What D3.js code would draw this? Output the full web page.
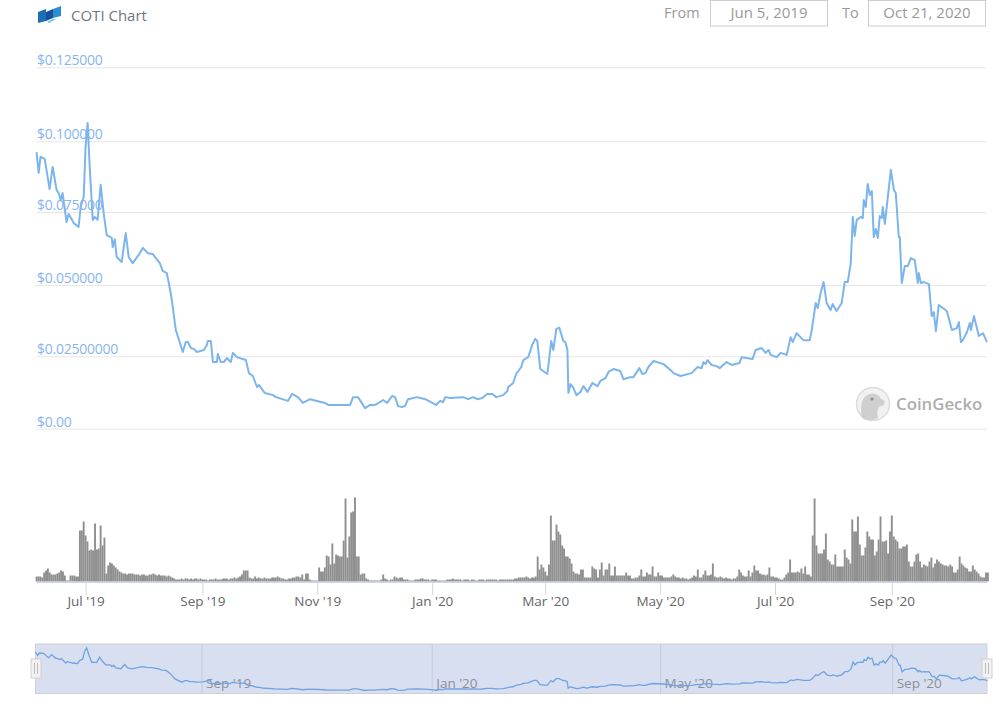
<!DOCTYPE html>
<html>
<head>
<meta charset="utf-8">
<title>COTI Chart</title>
<script src="https://cdn.jsdelivr.net/npm/d3@7"></script>
<style>
  html, body { margin: 0; padding: 0; background: #fff; }
  svg { display: block; font-family: "Open Sans", sans-serif; }
  .soft { filter: blur(0.4px); }
</style>
</head>
<body>
<svg id="chart" width="1003" height="723"></svg>
<script>
const startDate = Date.UTC(2019, 5, 5);
const endDate = Date.UTC(2020, 9, 21);

const priceTicks = [0, 0.025, 0.05, 0.075, 0.1, 0.125];
const priceTickLabels = ["$0.00", "$0.02500000", "$0.050000", "$0.075000", "$0.100000", "$0.125000"];

// days since Jun 5 2019
const priceDays = [
  0, 1.1, 2.1, 4.3, 6.9, 8.5, 10.6, 11.7, 12.8, 13.8, 15.9, 17, 19.7, 22.3, 23.4, 25, 26, 27.1, 28.2, 29.8,
  30.8, 32.4, 34, 35.6, 37.2, 39.9, 40.4, 41.5, 42.5, 45.2, 47.3, 48.9, 51, 54.2, 56.4, 59, 61.7, 65.4, 67, 69.1,
  70.2, 71.8, 73.9, 77.6, 79.2, 80.3, 81.9, 83.5, 85.1, 88.8, 90.4, 90.9, 92.5, 93.6, 95.7, 96.2, 97.8, 99.4, 101, 103.1,
  104.2, 106.3, 111.1, 112.7, 114.8, 117, 118, 121.2, 125.5, 127, 133.4, 135.6, 138.7, 141.4, 145.1, 153.1, 154.7, 155.8, 166.4, 168,
  170.6, 174.4, 177, 179.7, 182.3, 183.9, 186.1, 188.7, 190.3, 191.9, 194, 195.6, 197.2, 202, 206.3, 212.1, 214.2, 215.8, 216.9, 219.6,
  226.5, 229.1, 231.8, 233.9, 236.6, 239.2, 241.9, 244, 247.7, 249.9, 250.4, 253, 254.6, 257.3, 258.4, 261, 263.1, 264.7, 265.8, 267.4,
  271.1, 271.6, 273.2, 274.3, 275.9, 277.5, 279.6, 280.7, 281.8, 282.3, 283.4, 285, 286.6, 288.7, 290.3, 292.4, 295, 297.7, 299.3, 302,
  303.6, 306.2, 309.9, 311.5, 315.2, 316.8, 320, 321.6, 323.2, 324.8, 327.5, 332.8, 336.5, 338.1, 341.8, 347.7, 350.9, 353, 354, 355.1,
  356.2, 358.3, 361, 362.6, 366.3, 369, 373.2, 374.3, 380.1, 381.7, 384.9, 387, 388.6, 389.7, 392.9, 395, 398.2, 400.3, 401.4, 403.5,
  407.2, 410.4, 411.5, 413.6, 414.7, 416.2, 417.8, 419.4, 421.5, 422.6, 424.7, 427.4, 429, 430.6, 432.2, 433.3, 434.3, 435.4, 437.5, 438.6,
  439.1, 440.2, 441.2, 442.3, 443.4, 444.4, 445.5, 446.6, 447.6, 448.7, 449.2, 450.3, 453.5, 455.1, 456.1, 457.7, 458.2, 459.3, 460.9, 462.5,
  464.1, 466.2, 467.8, 468.3, 469.4, 471, 473.7, 475.2, 476.3, 477.4, 478.9, 483.2, 485.9, 488.5, 489.6, 490.7, 491.7, 493.9, 495.4, 496,
  497.6, 500.2, 502.4, 504.5
];
const priceValues = [
  .0962, .0888, .0945, .0938, .0831, .0909, .0828, .0817, .0792, .0817, .0716, .0743, .0712, .0699, .0768, .0803, .098, .1062, .0909, .0723,
  .0733, .0723, .0846, .0747, .0671, .0661, .063, .0657, .0596, .0579, .0678, .0596, .0575, .0603, .0627, .0609, .0606, .0575, .0548, .0541,
  .0507, .0447, .0342, .0265, .03, .03, .0279, .0276, .0265, .0272, .029, .0304, .0304, .023, .023, .0258, .023, .023, .0244, .023,
  .0262, .0247, .0237, .0192, .0182, .0144, .0151, .0123, .0116, .0109, .0096, .012, .0109, .0089, .0102, .0089, .0082, .0082, .0082, .0109,
  .0109, .0071, .0082, .0082, .0092, .0099, .0089, .0113, .0109, .0078, .0075, .0078, .0102, .0109, .0102, .0082, .0096, .0092, .0109, .0106,
  .0109, .0102, .0109, .0102, .0106, .012, .012, .0109, .0116, .013, .0144, .0158, .0189, .0213, .0237, .0247, .029, .0311, .0304, .0206,
  .0189, .0213, .0304, .0272, .0346, .035, .0304, .03, .0272, .0123, .0154, .014, .0116, .0127, .0147, .0127, .0158, .0147, .0165, .0175,
  .0196, .0206, .0199, .0171, .0178, .0178, .0209, .0189, .0192, .0213, .0234, .0223, .0203, .0192, .0182, .0192, .0213, .0209, .023, .0223,
  .0237, .022, .0216, .0209, .023, .022, .0227, .0247, .0241, .0272, .0279, .0262, .0272, .0255, .0247, .0262, .0255, .0317, .03, .0331,
  .0306, .0306, .0342, .0437, .0419, .0472, .051, .0437, .0412, .0433, .0409, .0437, .051, .051, .0575, .0733, .0668, .0723, .0733, .0729,
  .0792, .0768, .0849, .081, .0824, .0664, .0692, .0661, .0736, .0729, .0768, .0709, .0899, .0828, .0817, .0664, .0664, .0507, .0565, .0565,
  .0592, .0585, .0507, .0541, .0507, .051, .0503, .0391, .0405, .0338, .043, .0409, .0342, .0349, .037, .03, .0306, .0335, .0367, .0342,
  .0391, .0321, .0331, .03
];

// one bar per day from Jun 5 2019, relative height
const volumeValues = [
  5, 5, 5, 4, 9, 11, 13, 9, 7, 7, 7, 8, 9, 11, 10, 6, 1, 1, 6, 6, 6, 5, 5,
  51, 51, 60, 46, 40, 31, 32, 31, 58, 32, 33, 56, 36, 44, 8, 16, 19,
  18, 16, 14, 12, 10, 9, 8, 8, 7, 8, 8, 8, 7, 7, 7, 6,
  7, 7, 6, 6, 7, 7, 8, 7, 6, 7, 6, 6, 6, 5, 6, 5, 4, 3, 2, 2,
  2, 3, 2, 3, 3, 2, 3, 2, 3, 3, 2, 3, 2, 2, 2, 1, 2,
  2, 2, 3, 2, 2, 2, 3, 3, 3, 2, 3, 3, 4, 3, 4, 5, 7, 11, 11, 11, 4, 3, 3,
  5, 3, 4, 3, 3, 4, 3, 3, 3, 4, 4, 4, 5, 4, 3, 3, 2, 2, 3, 3, 4, 4, 5, 5, 4, 7, 2, 8, 8, 2, 1, 1, 1, 1,
  14, 10, 10, 14, 26, 25, 17, 38, 18, 27, 26, 25, 25, 41, 83, 24, 45, 69, 70, 84, 25, 25, 7,
  8, 8, 3, 2, 1, 1, 1, 1, 1, 1, 2,
  7, 3, 2, 1, 2, 2, 5, 4, 3, 4, 4, 2, 2, 2, 1, 1,
  1, 2, 2, 2, 3, 3, 2, 2, 2, 1, 2, 2, 2, 1, 1, 1, 1, 1, 2, 2, 2, 3, 2, 2, 2, 2, 1, 2, 2, 2,
  1, 2, 2, 1, 1, 2, 2, 2, 1, 2, 2, 2, 2, 2, 2, 1, 2, 2, 2, 2, 2,
  2, 2, 2, 3, 3, 4, 4, 4, 4, 5, 4, 3, 4, 4, 5,
  25, 12, 17, 14, 10, 6, 17, 66, 41, 41, 57, 50, 47,
  36, 33, 25, 25, 23, 18, 10, 8, 8, 7,
  12, 12, 4, 4, 4, 4, 15, 13, 12, 4, 12, 19, 6, 12, 12, 18, 6, 6, 15, 6, 6, 6, 6, 6, 9, 6, 6, 3, 3, 4, 4, 6, 12, 5, 5, 9, 7, 7, 15, 5, 5, 9, 6, 6,
  4, 4, 4, 4, 5, 7, 5, 4, 4, 3, 4, 3, 3, 2, 3, 4, 6, 5, 12, 4, 4, 7, 11, 6, 6, 7, 18, 5, 4, 4, 5, 4, 3, 4, 3, 3, 2, 3, 3,
  5, 12, 9, 6, 5, 5, 11, 5, 9, 16, 11, 11, 8, 7, 7, 6, 7, 14, 5, 5, 4, 4, 3, 2, 2, 4, 7, 9, 22, 9, 9, 9, 10, 9, 13, 8, 15, 7, 7, 5,
  46, 83, 36, 28, 28, 28, 32, 48, 22, 20, 17, 17, 27, 15, 15, 15, 15, 32, 24, 22, 18, 62, 50, 50, 65, 37, 26, 26, 34, 50, 45, 42, 42, 26, 30, 42, 65, 40, 40, 41, 28, 50, 66, 45, 42, 40, 33, 33, 35, 35, 37, 20, 15, 15, 20, 27, 28, 20, 14, 17, 16, 15, 20, 24, 14, 18, 22, 20, 18, 17, 16, 16, 15, 17, 15, 9, 9, 12, 25, 18, 16, 14, 13, 10, 10, 16, 12, 10, 8, 5, 4, 4, 9, 9
];

const axisTickDates = [
  Date.UTC(2019, 6, 1), Date.UTC(2019, 8, 1), Date.UTC(2019, 10, 1), Date.UTC(2020, 0, 1),
  Date.UTC(2020, 2, 1), Date.UTC(2020, 4, 1), Date.UTC(2020, 6, 1), Date.UTC(2020, 8, 1)
];
const navigatorTickDates = [
  Date.UTC(2019, 8, 1), Date.UTC(2020, 0, 1), Date.UTC(2020, 4, 1), Date.UTC(2020, 8, 1)
];

const dayMs = 86400000;
const priceData = priceDays.map((d, i) => ({ date: startDate + d * dayMs, value: priceValues[i] }));
const volumeData = volumeValues.map((v, i) => ({ date: startDate + i * dayMs, value: v }));
const tickFormat = d3.utcFormat("%b '%y");

const svg = d3.select("#chart");

const xScale = d3.scaleUtc().domain([startDate, endDate]).range([36.6, 986]);
// the grid lines in the picture are not quite evenly spaced
const yScale = d3.scaleLinear().domain(priceTicks).range([428.7, 356.3, 285, 212, 141.3, 67.3]);
const volumeScale = d3.scaleLinear().domain([0, 85]).range([581.5, 496.5]);
const navXScale = d3.scaleUtc().domain([startDate, endDate]).range([35.5, 986.5]);
const navYScale = d3.scaleLinear().domain([0.0071, 0.1062]).range([690.5, 648]);

drawHeader();
drawWatermark();
drawPriceAxis();
drawPriceLine();
drawVolume();
drawNavigator();

function drawHeader() {
  const logo = svg.append("g");
  logo.append("path").attr("d", "M38 12 L46 9 L46 21 L38 23 Z").attr("fill", "#1c6fb4");
  logo.append("path").attr("d", "M46 12 L53 9 L53 18 L46 21 Z").attr("fill", "#1b4f9c");
  logo.append("path").attr("d", "M53 9 L61 6 L61 16 L53 18 Z").attr("fill", "#2a8fd0");
  logo.append("path").attr("d", "M47 22 L53 19 L56 19 L49 23 Z").attr("fill", "#55c8ea");

  svg.append("text").attr("x", 71).attr("y", 21).attr("font-size", 15).attr("fill", "#6f7680").text("COTI Chart");

  const boxes = [
    { label: "From", labelX: 664, x: 710.5, w: 117, text: "Jun 5, 2019" },
    { label: "To", labelX: 842, x: 868.5, w: 117, text: "Oct 21, 2020" }
  ];
  boxes.forEach((b) => {
    svg.append("text").attr("x", b.labelX).attr("y", 18).attr("font-size", 14.5).attr("fill", "#9a9a9a").text(b.label);
    svg.append("rect").attr("x", b.x).attr("y", 0.5).attr("width", b.w).attr("height", 25.5)
      .attr("fill", "#fff").attr("stroke", "#ccc");
    svg.append("text").attr("x", b.x + b.w / 2).attr("y", 18).attr("text-anchor", "middle")
      .attr("font-size", 15).attr("fill", "#999").text(b.text);
  });
}

function drawWatermark() {
  const g = svg.append("g");
  g.append("circle").attr("cx", 873).attr("cy", 404).attr("r", 16.5)
    .attr("fill", "#f1f1f1").attr("stroke", "#dcdcdc").attr("stroke-width", 1.5);
  g.append("path")
    .attr("d", "M862 418 C860 408 861 396 870 394 C875 392 880 396 881 399 C886 400 886 405 881 406 C877 407 877 412 878 418 C873 421 866 421 862 418 Z")
    .attr("fill", "#cfcfcf");
  g.append("circle").attr("cx", 872).attr("cy", 399).attr("r", 1.6).attr("fill", "#8f8f8f");
  g.append("text").attr("x", 896).attr("y", 409.5).attr("font-size", 16.8).attr("font-weight", 600)
    .attr("fill", "#adadad").text("CoinGecko");
}

function drawPriceAxis() {
  const axis = d3.axisLeft(yScale)
    .tickValues(priceTicks)
    .tickSize(-950)
    .tickFormat((d, i) => priceTickLabels[i]);
  const g = svg.append("g").attr("transform", "translate(36.5,0)").call(axis);
  g.select(".domain").remove();
  g.selectAll(".tick line").attr("stroke", "#e6e6e6").attr("stroke-width", 1);
  g.selectAll(".tick text")
    .attr("x", 0.5).attr("y", -2.5).attr("dy", 0)
    .attr("text-anchor", "start")
    .attr("font-size", 14)
    .attr("letter-spacing", -0.25)
    .attr("font-family", '"Open Sans", sans-serif')
    .attr("fill", "#88b5f0");
}

function drawPriceLine() {
  const line = d3.line().x((d) => xScale(d.date)).y((d) => yScale(d.value));
  svg.append("path").datum(priceData).attr("d", line)
    .attr("class", "soft")
    .attr("fill", "none").attr("stroke", "#7cb5ec").attr("stroke-width", 2)
    .attr("stroke-linejoin", "round");
}

function drawVolume() {
  svg.append("g").attr("class", "soft").selectAll("rect").data(volumeData).join("rect")
    .attr("x", (d) => xScale(d.date) - 0.95)
    .attr("width", 1.9)
    .attr("y", (d) => volumeScale(d.value))
    .attr("height", (d) => volumeScale(0) - volumeScale(d.value))
    .attr("fill", "#8f8f8f");

  const axis = d3.axisBottom(xScale).tickValues(axisTickDates).tickSize(13).tickFormat(tickFormat);
  const g = svg.append("g").attr("transform", "translate(0,582)").call(axis);
  g.select(".domain").attr("stroke", "#ccd6eb").attr("d", "M36.5,0.5H987");
  g.selectAll(".tick line").attr("stroke", "#ccd6eb");
  g.selectAll(".tick text")
    .attr("y", 24).attr("dy", 0)
    .attr("font-size", 13.5)
    .attr("font-family", '"Open Sans", sans-serif')
    .attr("fill", "#666");
}

function drawNavigator() {
  svg.append("rect").attr("x", 35.5).attr("y", 644).attr("width", 951.5).attr("height", 49.5)
    .attr("fill", "#d8dff0").attr("stroke", "#d0d0d0");

  const axis = d3.axisBottom(navXScale).tickValues(navigatorTickDates).tickSize(-49).tickFormat(tickFormat);
  const g = svg.append("g").attr("transform", "translate(0,693)").call(axis);
  g.select(".domain").remove();
  g.selectAll(".tick line").attr("stroke", "#c4cbdd");
  g.selectAll(".tick text")
    .attr("x", 4).attr("y", -5).attr("dy", 0)
    .attr("text-anchor", "start")
    .attr("font-size", 13.5)
    .attr("font-family", '"Open Sans", sans-serif')
    .attr("fill", "#8d8f98");

  const line = d3.line().x((d) => navXScale(d.date)).y((d) => navYScale(d.value));
  svg.append("path").datum(priceData).attr("d", line)
    .attr("class", "soft")
    .attr("fill", "none").attr("stroke", "#6ea3e4").attr("stroke-width", 1.3);

  [36, 987].forEach((cx) => {
    const h = svg.append("g").attr("transform", `translate(${cx},0)`);
    h.append("rect").attr("x", -5).attr("y", 659).attr("width", 10).attr("height", 19)
      .attr("fill", "#f2f2f2").attr("stroke", "#cfcfcf");
    h.append("path").attr("d", "M-1.5,663V674M1.5,663V674").attr("stroke", "#bdbdbd").attr("fill", "none");
  });
}
</script>
</body>
</html>
